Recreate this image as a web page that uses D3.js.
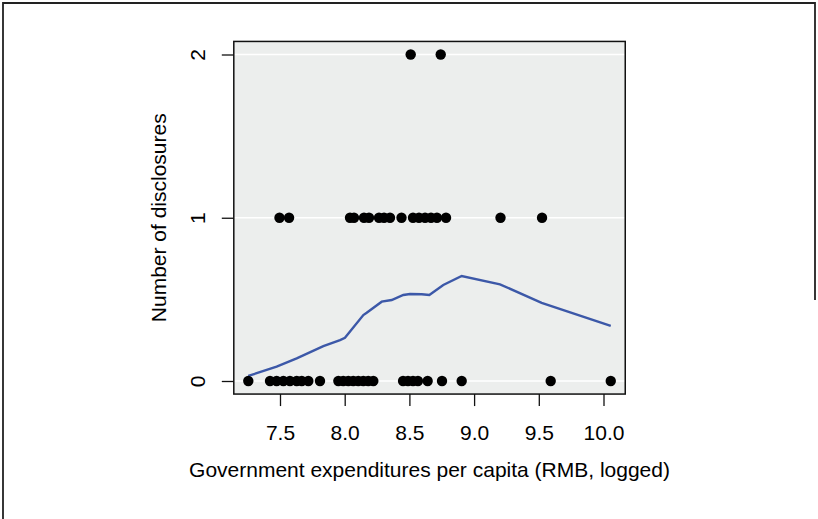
<!DOCTYPE html>
<meta charset="utf-8">
<style>
  body { margin: 0; background: #fff; }
  text { font-family: "Liberation Sans", Arial, sans-serif; fill: #000; }
</style>
<script src="https://d3js.org/d3.v7.min.js"></script>
<body>
<script>

const width = 818;
const height = 519;

// observed spending (logged) by disclosure count
const zeroX = [7.255, 7.423, 7.474, 7.526, 7.577, 7.629, 7.668, 7.719, 7.809,
               7.951, 7.989, 8.028, 8.066, 8.105, 8.144, 8.182, 8.221,
               8.451, 8.489, 8.528, 8.566, 8.641, 8.752, 8.904, 9.592, 10.056];
const oneX = [7.496, 7.570, 8.041, 8.072, 8.149, 8.188, 8.265, 8.304, 8.350,
              8.439, 8.528, 8.574, 8.621, 8.667, 8.713, 8.783, 9.204, 9.525];
const twoX = [8.510, 8.742];

// smoothed fit
const fitX = [7.255, 7.474, 7.629, 7.835, 7.964, 8.002, 8.144, 8.170, 8.286, 8.363,
              8.453, 8.505, 8.595, 8.654, 8.762, 8.904, 9.200, 9.522, 10.056];
const fitY = [0.031, 0.088, 0.139, 0.214, 0.251, 0.265, 0.404, 0.418, 0.486, 0.496,
              0.527, 0.533, 0.531, 0.527, 0.588, 0.643, 0.592, 0.479, 0.337];

const xTicks = [7.5, 8.0, 8.5, 9.0, 9.5, 10.0];
const yTicks = [0, 1, 2];

const points = [].concat(
  zeroX.map(x => ({x: x, y: 0})),
  oneX.map(x => ({x: x, y: 1})),
  twoX.map(x => ({x: x, y: 2}))
);
const fit = fitX.map((x, i) => ({x: x, y: fitY[i]}));

const xScale = d3.scaleLinear()
                 .domain([7.5, 10.0])
                 .range([280, 603.5]);
const yScale = d3.scaleLinear()
                 .domain([0, 2])
                 .range([381, 54.5]);

// plot region = data range padded 4%, like R
const xr = d3.extent(points, d => d.x);
const xpad = (xr[1] - xr[0]) * 0.04;
const boxL = xScale(xr[0] - xpad);
const boxR = xScale(xr[1] + xpad);
const boxT = yScale(2.08);
const boxB = yScale(-0.08);

const svg = d3.select("body")
              .append("svg")
              .attr("width", width)
              .attr("height", height);

// outer figure frame
svg.append("path")
   .attr("d", `M3,${height} V3 H815 V300`)
   .attr("fill", "none")
   .attr("stroke", "#222")
   .attr("stroke-width", 1.8);

svg.append("rect")
   .attr("x", boxL)
   .attr("y", boxT)
   .attr("width", boxR - boxL)
   .attr("height", boxB - boxT)
   .attr("fill", "#eceeed");

svg.append("g")
   .selectAll("line")
   .data(yTicks)
   .enter().append("line")
   .attr("x1", boxL)
   .attr("x2", boxR)
   .attr("y1", d => yScale(d))
   .attr("y2", d => yScale(d))
   .attr("stroke", "#fff")
   .attr("stroke-width", 1.5);

const line = d3.line()
               .x(d => xScale(d.x))
               .y(d => yScale(d.y));

svg.append("path")
   .datum(fit)
   .attr("d", line)
   .attr("fill", "none")
   .attr("stroke", "#3c58a8")
   .attr("stroke-width", 2.4);

svg.append("g")
   .selectAll("circle")
   .data(points)
   .enter().append("circle")
   .attr("cx", d => xScale(d.x))
   .attr("cy", d => yScale(d.y))
   .attr("r", 5.2)
   .attr("fill", "#000");

svg.append("rect")
   .attr("x", boxL)
   .attr("y", boxT)
   .attr("width", boxR - boxL)
   .attr("height", boxB - boxT)
   .attr("fill", "none")
   .attr("stroke", "#111")
   .attr("stroke-width", 1.5);

const xAxis = svg.append("g")
                 .attr("transform", `translate(0,${boxB})`)
                 .call(d3.axisBottom(xScale)
                         .tickValues(xTicks)
                         .tickFormat(d3.format(".1f"))
                         .tickSize(12)
                         .tickPadding(19));
xAxis.select(".domain").remove();
xAxis.selectAll("line").attr("stroke", "#111").attr("stroke-width", 1.3);
xAxis.selectAll("text").attr("font-size", 21).attr("font-family", null);

const yAxis = svg.append("g")
                 .attr("transform", `translate(${boxL},0)`)
                 .call(d3.axisLeft(yScale)
                         .tickValues(yTicks)
                         .tickFormat(d3.format("d"))
                         .tickSize(12)
                         .tickPadding(0));
yAxis.select(".domain").remove();
yAxis.selectAll("line").attr("stroke", "#111").attr("stroke-width", 1.3);
yAxis.selectAll("text")
     .attr("font-size", 21)
     .attr("font-family", null)
     .attr("x", null)
     .attr("dy", null)
     .attr("text-anchor", "middle")
     .attr("transform", "translate(-36,0) rotate(-90)")
     .attr("y", 0)
     .attr("dominant-baseline", "central");

svg.append("text")
   .attr("x", (boxL + boxR) / 2)
   .attr("y", 477)
   .attr("text-anchor", "middle")
   .attr("font-size", 21)
   .text("Government expenditures per capita (RMB, logged)");

svg.append("text")
   .attr("transform", `translate(166,${(boxT + boxB) / 2}) rotate(-90)`)
   .attr("text-anchor", "middle")
   .attr("font-size", 21)
   .text("Number of disclosures");

</script>
